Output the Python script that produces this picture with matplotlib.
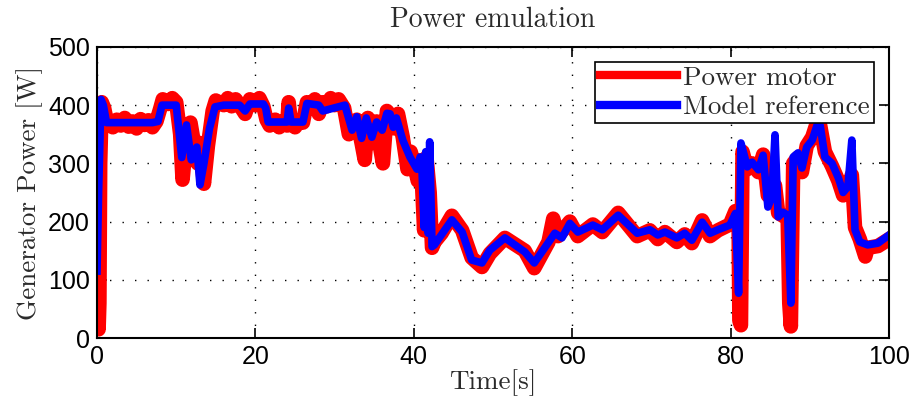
import matplotlib
matplotlib.use("Agg")
from matplotlib import pyplot as plt
from matplotlib import font_manager

# Model reference (blue)
t_ref = [0, 0.2, 0.5, 0.8, 1.2, 3, 5, 7, 7.7, 8.2, 10.0, 10.7, 11.3, 11.9, 12.6, 13.0,
         13.5, 14.2, 14.9, 16, 18, 18.7, 19.3, 21.0, 21.3, 21.6, 24.0, 24.2, 24.5, 26.0,
         26.5, 28.0, 28.5, 31.3, 32.2, 32.8, 33.4, 34.0, 34.7, 35.3, 36.0, 36.6, 37.0,
         37.4, 37.8, 38.6, 39.5, 40.4, 40.8, 41.0, 41.3, 41.5, 41.8, 42.0, 42.3, 42.6,
         44.8, 46.1, 47.3, 48.6, 49.6, 51.5, 54.0, 55.2, 57.8, 58.7, 59.7, 60.7, 62.6,
         63.8, 65.8, 68.2, 69.8, 70.8, 71.7, 73.2, 74.2, 75.1, 76.4, 77.4, 78.4, 79.9,
         80.6, 81.0, 81.3, 82.1, 82.7, 83.5, 84.1, 84.7, 85.2, 85.6, 86.0, 86.6, 87.2,
         87.6, 87.9, 88.5, 89.0, 89.6, 90.3, 90.9, 91.3, 91.9, 92.8, 93.6, 94.2, 94.8,
         95.3, 95.7, 96.3, 97.3, 98.6, 100]
p_ref = [115, 250, 410, 400, 370, 370, 370, 370, 372, 400, 400, 310, 366, 306, 328, 263,
         300, 360, 397, 400, 400, 390, 402, 402, 395, 371, 371, 395, 371, 371,
         403, 400, 390, 400, 357, 380, 343, 378, 345, 371, 357, 386, 385,
         362, 378, 340, 311, 290, 311, 300, 190, 320, 180, 337, 157, 160,
         203, 182, 134, 129, 151, 172, 148, 129, 180, 172, 197, 182, 194,
         186, 211, 180, 186, 177, 182, 172, 180, 168, 199, 180, 186, 194,
         214, 77, 335, 294, 302, 289, 314, 225, 242, 349, 208, 216, 211,
         60, 311, 318, 292, 328, 340, 365, 365, 311, 300, 275, 250, 260,
         340, 186, 165, 160, 163, 177]

# Power motor (red, measured)
t_mot = [0, 0.1, 0.2, 0.3, 0.4, 0.6, 0.9, 1.2, 2, 2.5, 3, 3.5, 4, 4.5, 5, 5.5, 6, 6.5,
         7, 7.5, 8.0, 8.3, 9, 9.5, 10.0, 10.5, 10.8, 11.2, 11.8, 12.3, 12.7, 13.0, 13.5,
         14.0, 14.6, 15, 16, 16.5, 17, 17.5, 18, 18.7, 19.3, 20, 20.5, 21.0, 21.4, 21.8,
         22.5, 23, 23.5, 24.0, 24.2, 24.5, 25, 25.5, 26.0, 26.5, 27, 27.5, 28, 28.5, 29,
         29.5, 30, 30.5, 31.2, 31.8, 32.3, 32.8, 33.4, 33.8, 34.2, 34.7, 35.3, 35.7, 36.1,
         36.6, 37.2, 37.6, 38.0, 38.6, 39.2, 39.6, 40.0, 40.5, 40.9, 41.3, 41.6, 42.0,
         42.3, 42.6, 43.5, 44.8, 46.1, 47.3, 48.6, 49.6, 51.5, 54, 55.2, 57, 57.6, 58.2,
         59.7, 60.7, 62.6, 63.8, 65.8, 68.2, 69.8, 70.8, 71.7, 73.2, 74.2, 75.1, 76.4,
         77.4, 78.4, 79.9, 80.6, 81.0, 81.1, 81.3, 81.5, 82.1, 82.7, 83.5, 84.1, 84.7,
         85.2, 85.6, 86.0, 86.6, 87.2, 87.4, 87.6, 87.9, 88.5, 89, 89.6, 90.3, 90.9, 91.3,
         91.9, 92.8, 93.6, 94.2, 94.8, 95.3, 95.7, 96.3, 97, 97.3, 98.6, 100]
p_mot = [185, 90, 15, 60, 300, 405, 395, 375, 362, 375, 365, 378, 363, 372, 360, 376, 366, 374,
         362, 372, 395, 410, 402, 412, 405, 350, 272, 330, 370, 330, 300, 335, 265,
         330, 390, 408, 400, 412, 398, 410, 400, 385, 410, 400, 412, 398, 375, 365,
         375, 362, 372, 365, 405, 368, 362, 372, 370, 405, 395, 410, 385, 405, 398,
         412, 400, 410, 395, 350, 365, 375, 335, 306, 378, 335, 372, 330, 300,
         390, 380, 360, 385, 345, 290, 320, 300, 270, 305, 185, 310, 250,
         155, 165, 180, 210, 185, 138, 122, 145, 172, 150, 120, 165, 205, 175,
         200, 175, 195, 182, 215, 175, 185, 170, 182, 165, 178, 163, 202,
         175, 185, 195, 218, 205, 30, 22, 320, 290, 300, 285, 315, 245,
         240, 262, 215, 210, 205, 60, 20, 300, 310, 285, 330, 345, 370, 365,
         320, 295, 270, 245, 255, 280, 190, 170, 140, 155, 158, 170]

serif = "cmr10"
# narrow sans for tick labels if there is one
names = {f.name for f in font_manager.fontManager.ttflist}
tick_fams = [n for n in ['Liberation Sans Narrow', 'DejaVu Sans Condensed', 'Liberation Sans'] if n in names]
plt.rcParams['font.family'] = tick_fams + ['DejaVu Sans']

fig = plt.figure(figsize=(9.1, 4.01), dpi=100)
ax = fig.add_axes([0.1066, 0.157, 0.8704, 0.726])

ax.plot(t_mot, p_mot, color='#ff0000', lw=10.5, solid_joinstyle='round', label='Power motor')
ax.plot(t_ref, p_ref, color='#0000ff', lw=5.5, solid_joinstyle='round', label='Model reference')

ax.set_xlim(0, 100)
ax.set_ylim(0, 500)
ax.set_xticks([0, 20, 40, 60, 80, 100])
ax.set_yticks([0, 100, 200, 300, 400, 500])
ax.tick_params(direction='in', top=True, right=True, labelsize=18, length=7, width=1.2, pad=5)
ax.grid(True, color='black', linestyle=(0, (1, 8)), linewidth=1.0)
for s in ax.spines.values():
    s.set_linewidth(1.5)

txt = '#2a2a2a'
ax.set_title('Power emulation', family=serif, fontsize=20, pad=14, color=txt)
ax.set_xlabel('Time[s]', family=serif, fontsize=19.5, labelpad=0, color=txt)
ax.set_ylabel('Generator Power [W]', family=serif, fontsize=19.5, labelpad=4, color=txt)

leg = ax.legend(loc='upper right', prop={'family': serif, 'size': 19.5}, fancybox=False,
                framealpha=1, edgecolor='black', borderpad=0.15, labelspacing=0.2,
                handlelength=2.85, handletextpad=0.25, borderaxespad=0.55)
leg.get_frame().set_linewidth(1.2)
for h in leg.get_lines():
    h.set_linewidth(6)
for t in leg.get_texts():
    t.set_color(txt)

fig.savefig('out.png', dpi=100)
